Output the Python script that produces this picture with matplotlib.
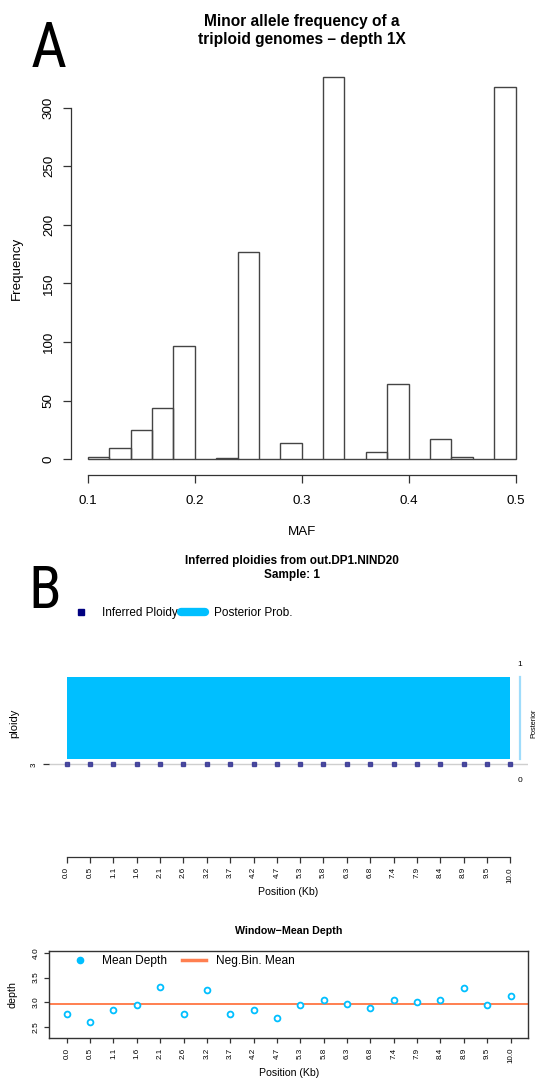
import matplotlib
matplotlib.use('Agg')
import matplotlib.pyplot as plt
from matplotlib.lines import Line2D

plt.rcParams['font.family'] = ['Liberation Sans', 'DejaVu Sans']

# panel A: MAF histogram (bin edges every 0.02 from 0.1 to 0.5)
maf_bin_left = [0.10, 0.12, 0.14, 0.16, 0.18, 0.20, 0.22, 0.24, 0.26, 0.28,
                0.30, 0.32, 0.34, 0.36, 0.38, 0.40, 0.42, 0.44, 0.46, 0.48]
maf_counts = [2, 10, 25, 44, 97, 0, 1, 177, 0, 14,
              0, 326, 0, 6, 64, 0, 17, 2, 0, 318]
maf_ticks = [0.1, 0.2, 0.3, 0.4, 0.5]
freq_ticks = [0, 50, 100, 150, 200, 250, 300]

# panels B and C: windows along the sequence
window_kb = [0.0, 0.526, 1.053, 1.579, 2.105, 2.632, 3.158, 3.684, 4.211, 4.737,
             5.263, 5.789, 6.316, 6.842, 7.368, 7.895, 8.421, 8.947, 9.474, 10.0]
window_labels = ['0.0', '0.5', '1.1', '1.6', '2.1', '2.6', '3.2', '3.7', '4.2', '4.7',
                 '5.3', '5.8', '6.3', '6.8', '7.4', '7.9', '8.4', '8.9', '9.5', '10.0']
inferred_ploidy = [3, 3, 3, 3, 3, 3, 3, 3, 3, 3, 3, 3, 3, 3, 3, 3, 3, 3, 3, 3]
posterior_prob = [1, 1, 1, 1, 1, 1, 1, 1, 1, 1, 1, 1, 1, 1, 1, 1, 1, 1, 1, 1]
mean_depth = [2.777, 2.601, 2.851, 2.946, 3.318, 2.777, 3.257, 2.764, 2.845, 2.696,
              2.959, 3.054, 2.973, 2.899, 3.047, 3.000, 3.054, 3.284, 2.946, 3.122]
negbin_mean = 2.966
depth_ticks = [2.5, 3.0, 3.5, 4.0]

W, H = 538, 1078
AX_COL = '#333333'
SKY = '#00BFFF'
CORAL = '#FF7F50'
PANEL_FONT = ['Roboto Condensed', 'Open Sans Condensed', 'Roboto']


def fx(px):
    return px / W


def fy(py):
    return 1 - py / H


def box(x0, y0, x1, y1):
    return [fx(x0), fy(y1), (x1 - x0) / W, (y1 - y0) / H]


fig = plt.figure(figsize=(W / 100, H / 100), dpi=100)

# ---------------- A ----------------
ax = fig.add_axes(box(70.6, 61.9, 532.8, 474.6))
ax.bar(maf_bin_left, maf_counts, width=0.02, align='edge', fill=False,
       edgecolor='#444444', linewidth=1)
ax.set_xlim(0.084, 0.516)
ax.set_ylim(-13.04, 339.04)
for s in ('top', 'right'):
    ax.spines[s].set_visible(False)
ax.spines['left'].set_bounds(0, 300)
ax.spines['bottom'].set_bounds(0.1, 0.5)
for s in ('left', 'bottom'):
    ax.spines[s].set_color(AX_COL)
    ax.spines[s].set_linewidth(0.9)
ax.set_yticks(freq_ticks)
ax.set_yticklabels([str(v) for v in freq_ticks], rotation=90, va='center')
ax.set_xticks(maf_ticks)
ax.set_xticklabels([f'{v:.1f}' for v in maf_ticks])
ax.tick_params(axis='y', length=5.8, width=0.9, color=AX_COL, pad=5.5, labelsize=9.6)
ax.tick_params(axis='x', length=5.4, width=0.9, color=AX_COL, pad=9.0, labelsize=9.6)
fig.text(fx(301.7), fy(30.5), 'Minor allele frequency of a\ntriploid genomes \u2013 depth 1X',
         ha='center', va='center', fontsize=11.2, fontweight='bold', linespacing=1.27)
fig.text(fx(17), fy(268), 'Frequency', rotation=90, ha='center', va='center', fontsize=9.6)
fig.text(fx(301.7), fy(531.7), 'MAF', ha='center', va='center', fontsize=9.6)
fig.text(fx(31), fy(66.7), 'A', ha='left', va='baseline', fontsize=45, family=PANEL_FONT)

# ---------------- B ----------------
axb = fig.add_axes(box(49, 671.3, 528, 857.3))
axb.set_xlim(-0.4, 10.4)
axb.set_ylim(2, 4)
axb.axhline(3, color='#cfcfcf', linewidth=1, zorder=1)
axb.plot(window_kb, inferred_ploidy, 's', color='#2b2b8f', markersize=2.2,
         alpha=0.8, zorder=3)
for s in ('top', 'right', 'left'):
    axb.spines[s].set_visible(False)
axb.spines['bottom'].set_bounds(0, 10)
axb.spines['bottom'].set_color(AX_COL)
axb.spines['bottom'].set_linewidth(0.9)
axb.set_yticks([3])
axb.set_yticklabels(['3'], rotation=90, va='center')
axb.set_xticks(window_kb)
axb.set_xticklabels(window_labels, rotation=90)
axb.tick_params(axis='y', length=4.3, width=0.9, color=AX_COL, pad=4, labelsize=5.8)
axb.tick_params(axis='x', length=4.1, width=0.9, color=AX_COL, pad=3, labelsize=5.8)

axp = axb.twinx()
axp.set_ylim(-1.195, 1.073)
axp.fill_between(window_kb, 0, posterior_prob, color=SKY, linewidth=0)
for s in ('top', 'left', 'bottom'):
    axp.spines[s].set_visible(False)
axp.spines['right'].set_position(('data', 10.22))
axp.spines['right'].set_bounds(0, 1)
axp.spines['right'].set_color('#9fdcfb')
axp.spines['right'].set_linewidth(1.6)
axp.set_yticks([])
fig.text(fx(519.5), fy(665), '1', ha='center', va='center', fontsize=6)
fig.text(fx(519.5), fy(781), '0', ha='center', va='center', fontsize=6)
fig.text(fx(534), fy(723), 'Posterior', rotation=90, ha='center', va='center', fontsize=5.3)
fig.text(fx(14), fy(723), 'ploidy', rotation=90, ha='center', va='center', fontsize=8)
fig.text(fx(288.5), fy(892.3), 'Position (Kb)', ha='center', va='center', fontsize=7.6)
fig.text(fx(291.8), fy(568), 'Inferred ploidies from out.DP1.NIND20\nSample: 1',
         ha='center', va='center', fontsize=8.5, fontweight='bold', linespacing=1.25)
fig.text(fx(28), fy(608.3), 'B', ha='left', va='baseline', fontsize=43, family=PANEL_FONT)
hb = [Line2D([], [], marker='s', linestyle='none', color='#000080', markersize=4),
      Line2D([], [], color=SKY, linewidth=6, solid_capstyle='round')]
fig.legend(hb, ['Inferred Ploidy', 'Posterior Prob.'], loc='center left',
           bbox_to_anchor=(fx(69), fy(612.7)), ncol=2, frameon=False,
           borderpad=0, borderaxespad=0, handlelength=2.0, handletextpad=0.8,
           columnspacing=0.3, fontsize=8.5)

# ---------------- C ----------------
axc = fig.add_axes(box(49, 951, 528.3, 1038.3))
axc.set_xlim(-0.4, 10.4)
axc.set_ylim(2.28, 4.035)
axc.axhline(negbin_mean, color=CORAL, linewidth=1.4, zorder=1)
axc.plot(window_kb, mean_depth, 'o', markerfacecolor='white', markeredgecolor=SKY,
         markeredgewidth=1.3, markersize=4.2, zorder=3)
for s in axc.spines.values():
    s.set_color(AX_COL)
    s.set_linewidth(1.0)
axc.set_yticks(depth_ticks)
axc.set_yticklabels([f'{v:.1f}' for v in depth_ticks], rotation=90, va='center')
axc.set_xticks(window_kb)
axc.set_xticklabels(window_labels, rotation=90)
axc.tick_params(axis='y', length=3.6, width=0.9, color=AX_COL, pad=3, labelsize=6)
axc.tick_params(axis='x', length=3.8, width=0.9, color=AX_COL, pad=3, labelsize=5.8)
fig.text(fx(289), fy(930.7), 'Window\u2212Mean Depth', ha='center', va='center',
         fontsize=7.7, fontweight='bold')
fig.text(fx(13), fy(995), 'depth', rotation=90, ha='center', va='center', fontsize=7.7)
fig.text(fx(289), fy(1073), 'Position (Kb)', ha='center', va='center', fontsize=7.6)
hc = [Line2D([], [], marker='o', linestyle='none', color=SKY, markersize=4.5),
      Line2D([], [], color=CORAL, linewidth=2.5)]
fig.legend(hc, ['Mean Depth', 'Neg.Bin. Mean'], loc='center left',
           bbox_to_anchor=(fx(68), fy(961)), ncol=2, frameon=False,
           borderpad=0, borderaxespad=0, handlelength=2.0, handletextpad=0.85,
           columnspacing=1.25, fontsize=8.6)

fig.savefig('out.png', dpi=100)
